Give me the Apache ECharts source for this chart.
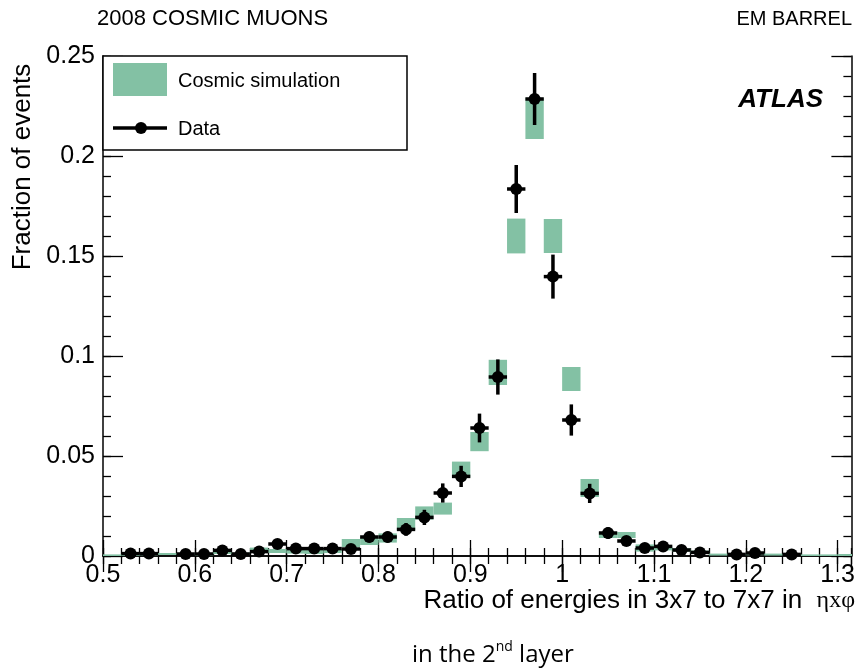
<!DOCTYPE html>
<html>
<head>
<meta charset="utf-8">
<script src="https://cdn.jsdelivr.net/npm/echarts@6/dist/echarts.min.js"></script>
<style>
  html, body { margin: 0; padding: 0; background: #fff; }
  #chart { width: 858px; height: 668px; }
</style>
</head>
<body>
<div id="chart"></div>
<script>
// cosmic simulation: bin centres, fractions, half-height of the error box
const simX = [0.51, 0.53, 0.55, 0.57, 0.59, 0.61, 0.63, 0.65, 0.67, 0.69, 0.71, 0.73, 0.75, 0.77, 0.79, 0.81, 0.83, 0.85, 0.87, 0.89, 0.91, 0.93, 0.95, 0.97, 0.99, 1.01, 1.03, 1.05, 1.07, 1.09, 1.11, 1.13, 1.15, 1.17, 1.19, 1.21, 1.23, 1.25, 1.27, 1.29, 1.31];
const simY = [0.0004, 0.0005, 0.0008, 0.001, 0.001, 0.0006, 0.0015, 0.0012, 0.003, 0.0025, 0.0022, 0.002, 0.0025, 0.0065, 0.0075, 0.009, 0.016, 0.0215, 0.0237, 0.0432, 0.0572, 0.0918, 0.160, 0.2188, 0.160, 0.0885, 0.034, 0.0105, 0.0105, 0.004, 0.0038, 0.003, 0.002, 0.0008, 0.0008, 0.001, 0.0008, 0.0005, 0.0004, 0.0004, 0.0006];
const simErr = [0.0004, 0.0004, 0.0005, 0.0005, 0.0005, 0.0004, 0.0005, 0.0005, 0.0012, 0.001, 0.001, 0.001, 0.001, 0.002, 0.002, 0.0023, 0.003, 0.0033, 0.003, 0.004, 0.0048, 0.0063, 0.0087, 0.0103, 0.0085, 0.006, 0.0045, 0.0015, 0.0015, 0.0018, 0.001, 0.0009, 0.0007, 0.0004, 0.0004, 0.0004, 0.0004, 0.0004, 0.0004, 0.0004, 0.0004];

// data points
const dataX = [0.53, 0.55, 0.59, 0.61, 0.63, 0.65, 0.67, 0.69, 0.71, 0.73, 0.75, 0.77, 0.79, 0.81, 0.83, 0.85, 0.87, 0.89, 0.91, 0.93, 0.95, 0.97, 0.99, 1.01, 1.03, 1.05, 1.07, 1.09, 1.11, 1.13, 1.15, 1.19, 1.21, 1.25];
const dataY = [0.0012, 0.0012, 0.001, 0.001, 0.0028, 0.001, 0.0022, 0.006, 0.0037, 0.0037, 0.0037, 0.0035, 0.0095, 0.0095, 0.0133, 0.0193, 0.0315, 0.0398, 0.064, 0.0895, 0.1835, 0.2285, 0.1397, 0.068, 0.0313, 0.0115, 0.0075, 0.004, 0.0048, 0.003, 0.0018, 0.0008, 0.0015, 0.0008];
const dataErr = [0.001, 0.001, 0.001, 0.001, 0.0015, 0.001, 0.0015, 0.0022, 0.0017, 0.0017, 0.0017, 0.0017, 0.0027, 0.0027, 0.0032, 0.0038, 0.0048, 0.0053, 0.0072, 0.0088, 0.012, 0.013, 0.011, 0.0078, 0.0048, 0.0029, 0.0023, 0.0017, 0.0019, 0.0015, 0.0011, 0.0008, 0.001, 0.0008];

const binHalf = 0.01;
const xTicks = ['0.5', '0.6', '0.7', '0.8', '0.9', '1', '1.1', '1.2', '1.3'];
const yTicks = ['0', '0.05', '0.1', '0.15', '0.2', '0.25'];

const GREEN = '#83c1a4';
const FONT = "'Liberation Sans', Arial, Helvetica, sans-serif";

const chart = echarts.init(document.getElementById('chart'));

const xBase = { type: 'value', min: 0.5, max: 1.315, gridIndex: 0 };
const yBase = { type: 'value', min: 0, max: 0.25, gridIndex: 0 };
const line = { show: true, lineStyle: { color: '#000', width: 1.5 } };
const noLine = { show: false };

function ticks(len) {
  return { show: true, inside: true, length: len, lineStyle: { color: '#000', width: 1.3 } };
}

chart.setOption({
  animation: false,
  backgroundColor: '#fff',
  grid: { left: 103, right: 6, top: 56, bottom: 112 },
  xAxis: [
    {
      ...xBase, position: 'bottom', interval: 0.1,
      axisLine: line, axisTick: ticks(16), splitLine: { show: false },
      axisLabel: {
        show: true, margin: 7, fontSize: 25, color: '#000', fontFamily: FONT, showMaxLabel: false,
        formatter: v => {
          const s = String(Math.round(v * 10) / 10);
          return xTicks.includes(s) ? s : '';
        }
      }
    },
    { ...xBase, position: 'bottom', interval: 0.02, axisLine: noLine, axisTick: ticks(8), axisLabel: { show: false }, splitLine: { show: false } },
    { ...xBase, position: 'top', interval: 0.1, axisLine: line, axisTick: ticks(16), axisLabel: { show: false }, splitLine: { show: false } },
    { ...xBase, position: 'top', interval: 0.02, axisLine: noLine, axisTick: ticks(8), axisLabel: { show: false }, splitLine: { show: false } }
  ],
  yAxis: [
    {
      ...yBase, position: 'left', interval: 0.05,
      axisLine: line, axisTick: ticks(20), splitLine: { show: false },
      axisLabel: {
        show: true, margin: 8, fontSize: 25, color: '#000', fontFamily: FONT,
        formatter: v => {
          const s = String(Math.round(v * 100) / 100);
          return yTicks.includes(s) ? s : '';
        }
      }
    },
    { ...yBase, position: 'left', interval: 0.01, axisLine: noLine, axisTick: ticks(8), axisLabel: { show: false }, splitLine: { show: false } },
    { ...yBase, position: 'right', interval: 0.05, axisLine: line, axisTick: ticks(20), axisLabel: { show: false }, splitLine: { show: false } },
    { ...yBase, position: 'right', interval: 0.01, axisLine: noLine, axisTick: ticks(8), axisLabel: { show: false }, splitLine: { show: false } }
  ],
  series: [
    {
      name: 'Cosmic simulation',
      type: 'custom',
      clip: true,
      xAxisIndex: 0, yAxisIndex: 0,
      data: simX.map((x, i) => [x, simY[i], simErr[i]]),
      renderItem: (params, api) => {
        const x = api.value(0), y = api.value(1), e = api.value(2);
        const p1 = api.coord([x - binHalf, y + e]);
        const p2 = api.coord([x + binHalf, y - e]);
        const h = Math.max(p2[1] - p1[1], 2);
        return {
          type: 'rect',
          shape: { x: p1[0], y: p1[1], width: p2[0] - p1[0], height: h },
          style: { fill: GREEN }
        };
      },
      z: 2
    },
    {
      name: 'Data errors',
      type: 'custom',
      clip: true,
      xAxisIndex: 0, yAxisIndex: 0,
      data: dataX.map((x, i) => [x, dataY[i], dataErr[i]]),
      renderItem: (params, api) => {
        const x = api.value(0), y = api.value(1), e = api.value(2);
        const lo = api.coord([x, y - e]);
        const hi = api.coord([x, y + e]);
        const l = api.coord([x - binHalf, y]);
        const r = api.coord([x + binHalf, y]);
        const st = { stroke: '#000', lineWidth: 3.5 };
        return {
          type: 'group',
          children: [
            { type: 'line', shape: { x1: lo[0], y1: lo[1], x2: hi[0], y2: hi[1] }, style: st },
            { type: 'line', shape: { x1: l[0], y1: l[1], x2: r[0], y2: r[1] }, style: st }
          ]
        };
      },
      z: 3
    },
    {
      name: 'Data',
      type: 'scatter',
      xAxisIndex: 0, yAxisIndex: 0,
      data: dataX.map((x, i) => [x, dataY[i]]),
      symbol: 'circle',
      symbolSize: 12,
      itemStyle: { color: '#000', opacity: 1 },
      z: 4
    }
  ],
  graphic: {
    elements: [
      // legend box
      { type: 'rect', z: 100, shape: { x: 103, y: 56, width: 304, height: 94 }, style: { fill: '#fff', stroke: '#000', lineWidth: 1.5 } },
      { type: 'rect', z: 101, shape: { x: 113, y: 63, width: 54, height: 33 }, style: { fill: GREEN } },
      { type: 'text', z: 101, x: 178, y: 81, style: { text: 'Cosmic simulation', fontSize: 20, fontFamily: FONT, fill: '#000', textAlign: 'left', textVerticalAlign: 'middle', align: 'left', verticalAlign: 'middle' } },
      { type: 'line', z: 101, shape: { x1: 113, y1: 128, x2: 167, y2: 128 }, style: { stroke: '#000', lineWidth: 3.5 } },
      { type: 'circle', z: 102, shape: { cx: 141, cy: 128, r: 6 }, style: { fill: '#000' } },
      { type: 'text', z: 101, x: 178, y: 129, style: { text: 'Data', fontSize: 20, fontFamily: FONT, fill: '#000', textAlign: 'left', textVerticalAlign: 'middle', align: 'left', verticalAlign: 'middle' } },
      // ATLAS label
      { type: 'text', z: 101, x: 823, y: 100, style: { text: 'ATLAS', fontSize: 26, fontWeight: 'bold', fontStyle: 'italic', fontFamily: FONT, fill: '#000', textAlign: 'right', textVerticalAlign: 'middle', align: 'right', verticalAlign: 'middle' } },
      // header texts
      { type: 'text', z: 101, x: 97, y: 19, style: { text: '2008 COSMIC MUONS', fontSize: 22, fontFamily: FONT, fill: '#000', textAlign: 'left', textVerticalAlign: 'middle', align: 'left', verticalAlign: 'middle' } },
      { type: 'text', z: 101, x: 852, y: 19, style: { text: 'EM BARREL', fontSize: 20, fontFamily: FONT, fill: '#000', textAlign: 'right', textVerticalAlign: 'middle', align: 'right', verticalAlign: 'middle' } },
      // y axis title
      { type: 'text', z: 101, x: 23, y: 167, rotation: Math.PI / 2, style: { text: 'Fraction of events', fontSize: 26, fontFamily: FONT, fill: '#000', textAlign: 'center', textVerticalAlign: 'middle', align: 'center', verticalAlign: 'middle' } },
      // x axis title
      {
        type: 'text', z: 101, x: 855, y: 601,
        style: {
          text: '{a|Ratio of energies in 3x7 to 7x7 in  }{b|ηxφ}',
          textAlign: 'right', textVerticalAlign: 'middle', align: 'right', verticalAlign: 'middle',
          rich: {
            a: { fontSize: 26, fontFamily: FONT, fill: '#000', color: '#000' },
            b: { fontSize: 24, fontFamily: "'Liberation Serif', 'DejaVu Serif', serif", fill: '#000', color: '#000' }
          }
        }
      },
      {
        type: 'text', z: 101, x: 412, y: 655,
        style: {
          text: '{a|in the 2}{s|nd}{a| layer}',
          textAlign: 'left', textVerticalAlign: 'middle', align: 'left', verticalAlign: 'middle',
          rich: {
            a: { fontSize: 24, fontFamily: "'Open Sans', 'Noto Sans', sans-serif", fill: '#000', color: '#000', lineHeight: 30 },
            s: { fontSize: 14, fontFamily: "'Open Sans', 'Noto Sans', sans-serif", fill: '#000', color: '#000', verticalAlign: 'top', lineHeight: 30, padding: [0, 0, 12, 0] }
          }
        }
      }
    ]
  }
});
</script>
</body>
</html>
